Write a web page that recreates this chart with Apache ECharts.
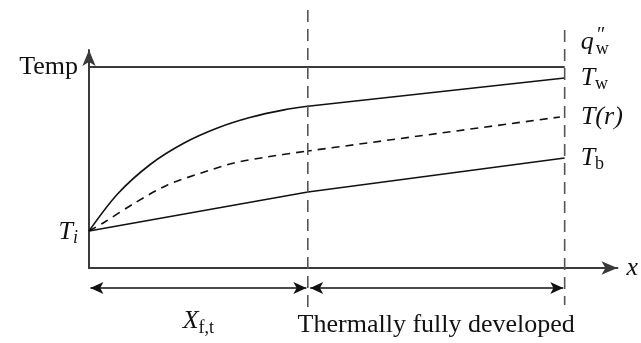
<!DOCTYPE html>
<html><head><meta charset="utf-8">
<script src="https://cdn.jsdelivr.net/npm/echarts@6/dist/echarts.min.js"></script>
<style>html,body{margin:0;padding:0;background:#fff}#c{width:641px;height:343px}</style>
</head><body><div id="c"></div>
<script>
// ---- data (x: distance along tube, y: temperature, arbitrary units) ----
const xEntryTw = [0, 6, 13, 20, 27, 34, 41, 46];
const twEntry  = [3.7, 7.4, 10.4, 12.5, 14.0, 15.07, 15.81, 16.17];
const xEntryTr = [0, 3.3, 9.6, 16.5, 23.6, 30.5, 37.4, 46];
const trEntry  = [3.7, 4.6, 6.5, 8.3, 9.5, 10.5, 11.1, 11.7];
const xFdTw = [46, 100];
const twFd  = [16.17, 19.0];
const xFdTr = [46, 99];
const trFd  = [11.7, 15.1];
const xTb = [0, 46, 100];
const tbVals = [3.7, 7.6, 11.0];
const xQ = [0, 100];
const qVals = [20.1, 20.1];
const xFt = 46;      // end of thermal entrance length
const xEnd = 100;    // end of heated section
const xMax = 111.1, yMax = 21.8;
const dimY = -2.0;   // level of dimension arrows
const vTop1 = 25.8, vBot1 = -4.5, vTop2 = 23.8, vBot2 = -3.7;

const zip = (xs, ys) => xs.map((x, i) => [x, ys[i]]);
const SERIF = '"Liberation Serif","DejaVu Serif",serif';
const FS = 26;
const ink = '#111';
const axisC = '#3a3a3a';
const GAP = 0.3; // small gap between arrow tips and reference lines (x units)

const chart = echarts.init(document.getElementById('c'), null, {renderer: 'canvas'});
const baseLine = {type: 'line', showSymbol: false, symbol: 'none', clip: false, silent: true, animation: false};
const endLab = (fmt, rich, offset) => ({show: true, distance: 15, formatter: fmt, rich: rich, offset: offset || [0, 0],
  fontFamily: SERIF, fontSize: FS, color: ink, align: 'left', verticalAlign: 'middle'});
const richT = {
  t: {fontFamily: SERIF, fontSize: FS, fontStyle: 'italic', color: ink},
  n: {fontFamily: SERIF, fontSize: FS, color: ink},
  s: {fontFamily: SERIF, fontSize: 18, color: ink, verticalAlign: 'bottom', padding: [13, 0, 0, 0]},
  si: {fontFamily: SERIF, fontSize: 18, fontStyle: 'italic', color: ink, verticalAlign: 'bottom', padding: [13, 0, 0, 0]},
  pp: {fontFamily: SERIF, fontSize: 20, fontStyle: 'italic', color: ink, width: 0, verticalAlign: 'top', padding: [0, 0, 12, 2]}
};
const arrowPt = (x, rot) => ({value: [x, dimY], symbol: 'arrow', symbolSize: [9, 13], symbolRotate: rot,
  itemStyle: {color: ink}});
const midPt = (x, fmt, dist) => ({value: [x, dimY], symbol: 'circle', symbolSize: 0,
  label: {show: true, position: 'bottom', distance: dist, formatter: fmt, fontFamily: SERIF, fontSize: FS, color: ink, rich: richT}});

chart.setOption({
  animation: false,
  backgroundColor: '#fff',
  grid: {left: 89, right: 21, top: 50, bottom: 75},
  xAxis: {type: 'value', min: 0, max: xMax,
    axisLine: {show: true, onZero: false, symbol: ['none', 'arrow'], symbolSize: [10, 16], lineStyle: {color: axisC, width: 2}},
    axisTick: {show: false}, axisLabel: {show: false}, splitLine: {show: false},
    name: 'x', nameLocation: 'end', nameGap: 9,
    nameTextStyle: {fontFamily: SERIF, fontSize: FS, fontStyle: 'italic', color: ink, verticalAlign: 'middle'}},
  yAxis: {type: 'value', min: 0, max: yMax,
    axisLine: {show: true, onZero: false, symbol: ['none', 'arrow'], symbolSize: [10, 16], lineStyle: {color: axisC, width: 2}},
    axisTick: {show: false}, axisLabel: {show: false}, splitLine: {show: false},
    name: 'Temp', nameLocation: 'end', nameGap: -17,
    nameTextStyle: {fontFamily: SERIF, fontSize: FS, color: ink, align: 'right', verticalAlign: 'middle', padding: [0, 11, 0, 0]}},
  series: [
    Object.assign({}, baseLine, {name: 'q', data: zip(xQ, qVals), lineStyle: {color: axisC, width: 2},
      endLabel: endLab('{t|q}{pp|″}{s|w}', richT, [1, -25])}),
    Object.assign({}, baseLine, {name: 'TwEntry', data: zip(xEntryTw, twEntry), smooth: 0.3,
      lineStyle: {color: ink, width: 1.6}}),
    Object.assign({}, baseLine, {name: 'TwFd', data: zip(xFdTw, twFd), lineStyle: {color: ink, width: 1.6},
      endLabel: Object.assign(endLab('{t|T}{s|w}', richT), {distance: 16})}),
    Object.assign({}, baseLine, {name: 'TrEntry', data: zip(xEntryTr, trEntry), smooth: 0.3,
      lineStyle: {color: ink, width: 1.6, type: [8, 6]}}),
    Object.assign({}, baseLine, {name: 'TrFd', data: zip(xFdTr, trFd), lineStyle: {color: ink, width: 1.6, type: [8, 6], dashOffset: 4},
      endLabel: Object.assign(endLab('{t|T(r)}', richT), {distance: 21})}),
    Object.assign({}, baseLine, {name: 'Tb', data: zip(xTb, tbVals), lineStyle: {color: ink, width: 1.6},
      endLabel: Object.assign(endLab('{t|T}{s|b}', richT), {distance: 16}),
      markPoint: {symbol: 'circle', symbolSize: 0, silent: true,
        data: [{coord: [xTb[0], tbVals[0]], label: {show: true, position: 'left', distance: 11, offset: [0, 1],
          formatter: '{t|T}{si|i}', rich: richT}}]}}),
    Object.assign({}, baseLine, {name: 'v1', data: [[xFt, vTop1], [xFt, vBot1]], lineStyle: {color: '#555', width: 1.6, type: [12, 7]}}),
    Object.assign({}, baseLine, {name: 'v2', data: [[xEnd, vTop2], [xEnd, vBot2]], lineStyle: {color: '#555', width: 1.6, type: [12, 7]}}),
    Object.assign({}, baseLine, {name: 'dim1', showSymbol: true, symbol: 'arrow',
      data: [arrowPt(0 + GAP, 90), midPt(xFt / 2, '{t|X}{s|f,t}', 18), arrowPt(xFt - GAP, -90)],
      lineStyle: {color: ink, width: 1.6}}),
    Object.assign({}, baseLine, {name: 'dim2', showSymbol: true, symbol: 'arrow',
      data: [arrowPt(xFt + GAP + 0.2, 90), midPt((xFt + xEnd) / 2, 'Thermally fully developed', 24), arrowPt(xEnd - GAP, -90)],
      lineStyle: {color: ink, width: 1.6}})
  ]
});
</script></body></html>
